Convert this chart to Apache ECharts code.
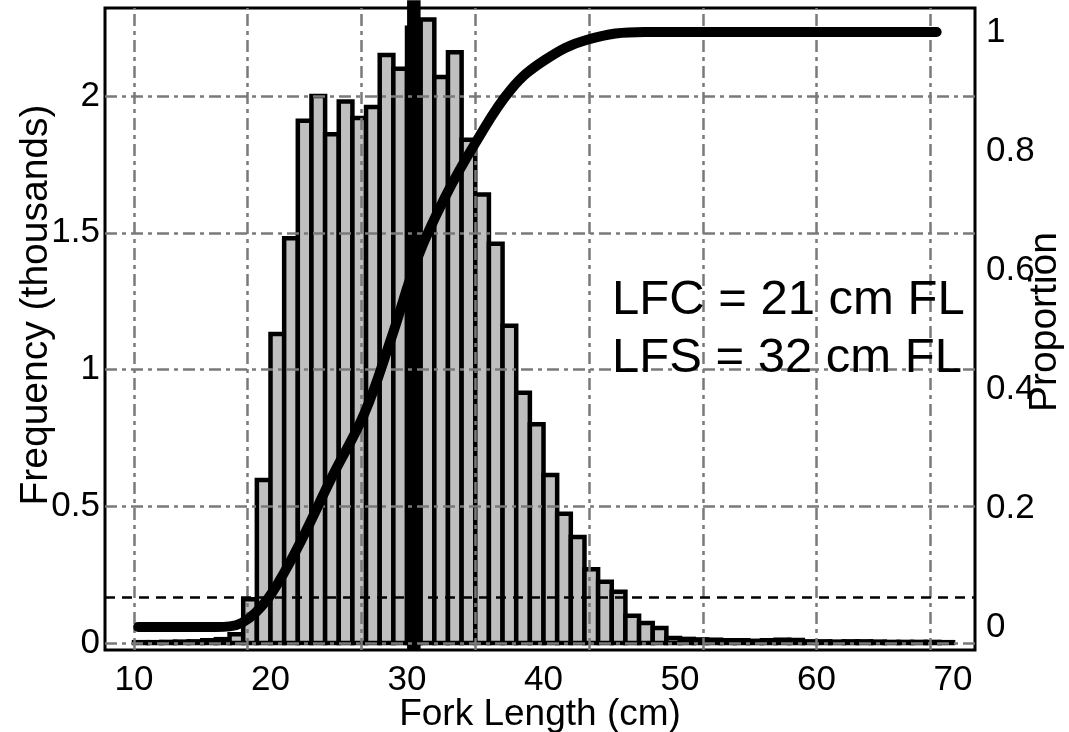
<!DOCTYPE html>
<html>
<head>
<meta charset="utf-8">
<script src="https://cdn.jsdelivr.net/npm/echarts@6/dist/echarts.min.js"></script>
<style>
html,body{margin:0;padding:0;background:#fff;}
#chart{width:1069px;height:732px;}
</style>
</head>
<body>
<div id="chart"></div>
<script>
// ---- data ----
const binStart = [10,11,12,13,14,15,16,17,18,19,20,21,22,23,24,25,26,27,28,29,30,31,32,33,34,35,36,37,38,39,40,41,42,43,44,45,46,47,48,49,50,51,52,53,54,55,56,57,58,59,60,61,62,63,64,65,66,67,68,69];
const freqThousands = [0.003,0.003,0.004,0.005,0.006,0.010,0.014,0.032,0.16,0.596,1.13,1.48,1.91,2.00,1.86,1.98,1.92,1.96,2.15,2.10,2.25,2.28,2.07,2.16,1.84,1.64,1.46,1.16,0.915,0.80,0.614,0.473,0.388,0.27,0.224,0.187,0.10,0.073,0.055,0.018,0.015,0.013,0.012,0.010,0.010,0.008,0.010,0.012,0.011,0.006,0.006,0.005,0.006,0.006,0.005,0.004,0.004,0.004,0.004,0.003];
const curveX = [10.3,12,14,16,17,17.9,18.9,20.1,22.0,24.5,26.9,28.8,30.8,32.8,35.0,37.6,40.1,43.2,47.4,52,60,68.8];
const curveY = [0,0,0,0,0.001,0.007,0.024,0.057,0.134,0.252,0.360,0.482,0.622,0.723,0.813,0.903,0.953,0.987,1.0,1.0,1.0,1.0];
const xTicks = [10,20,30,40,50,60,70];
const leftTicks = [0,0.5,1,1.5,2];
const rightTicks = [0,0.2,0.4,0.6,0.8,1];
const gridX = [10,18.333,26.667,35,43.333,51.667,60,68.333];
const gridY = [0,0.5,1,1.5,2];
const markX = 30.5;          // thick black vertical line
const refProportion = 0.05;  // dashed horizontal line
const dottedX = 35;          // dotted vertical line
const dottedTop = 1.83;
const annotations = ['LFC = 21 cm FL', 'LFS = 32 cm FL'];

const binWidth = 1;
const FONT = '"Liberation Sans", Arial, sans-serif';
const Y_MIN = -0.0256, Y_MAX = 2.322;

const chart = echarts.init(document.getElementById('chart'), null, {renderer:'canvas'});
const gridLineStyle = {color:'#7a7a7a', width:2.5, type:[12,5,4,5]};

chart.setOption({
  animation:false,
  backgroundColor:'#fff',
  grid:{left:105, right:94, top:8, bottom:82, show:true, borderColor:'#000', borderWidth:3,
        backgroundColor:'transparent', containLabel:false, outerBoundsMode:'none'},
  xAxis:{
    type:'value', min:7.875, max:71.61,
    name:'Fork Length (cm)', nameLocation:'middle', nameGap:46, nameMoveOverlap:false,
    nameTextStyle:{fontSize:37, fontFamily:FONT, color:'#000'},
    axisLine:{show:false}, axisTick:{show:false}, splitLine:{show:false},
    axisLabel:{customValues:xTicks, fontSize:35, fontFamily:FONT, color:'#000', margin:13}
  },
  yAxis:[
    {type:'value', min:Y_MIN, max:Y_MAX, position:'left',
     name:'Frequency (thousands)', nameLocation:'middle', nameGap:49, nameRotate:90, nameMoveOverlap:false,
     nameTextStyle:{fontSize:39, fontFamily:FONT, color:'#000', padding:[0,0,0,48]},
     axisLine:{show:false}, axisTick:{show:false}, splitLine:{show:false},
     axisLabel:{customValues:leftTicks, fontSize:35, fontFamily:FONT, color:'#000', margin:5}},
    {type:'value', min:-0.0387, max:1.0403, position:'right',
     name:'Proportion', nameLocation:'middle', nameGap:51, nameRotate:90, nameMoveOverlap:false,
     nameTextStyle:{fontSize:39, fontFamily:FONT, color:'#000', padding:[0,0,0,14]},
     axisLine:{show:false}, axisTick:{show:false}, splitLine:{show:false},
     axisLabel:{customValues:rightTicks, fontSize:35, fontFamily:FONT, color:'#000', margin:11}}
  ],
  series:[
    {
      name:'Frequency', type:'custom', xAxisIndex:0, yAxisIndex:0, z:1,
      data: binStart.map((b,i)=>[b, freqThousands[i]]),
      encode:{x:0, y:1},
      renderItem:function(params, api){
        const x0 = api.value(0), v = api.value(1);
        const p0 = api.coord([x0, 0]);
        const p1 = api.coord([x0 + binWidth, v]);
        return {
          type:'rect',
          shape:{x:p0[0], y:p1[1], width:p1[0]-p0[0], height:p0[1]-p1[1]},
          style:{fill:'#bfbfbf', stroke:'#000', lineWidth:4.5}
        };
      }
    },
    {
      name:'grid', type:'line', xAxisIndex:0, yAxisIndex:0, z:2, data:[], silent:true,
      markLine:{silent:true, symbol:'none', label:{show:false}, animation:false,
        lineStyle:gridLineStyle,
        data: gridX.map(v=>({xAxis:v})).concat(gridY.map(v=>({yAxis:v})))}
    },
    {
      name:'ref', type:'line', xAxisIndex:0, yAxisIndex:1, z:3, data:[], silent:true,
      markLine:{silent:true, symbol:'none', label:{show:false}, animation:false,
        data:[
          {yAxis:refProportion, lineStyle:{color:'#000', width:2.5, type:[10,7]}}
        ]}
    },
    {
      name:'mark', type:'line', xAxisIndex:0, yAxisIndex:0, z:3, silent:true, clip:false,
      data:[[markX, Y_MIN],[markX, 2.35]], showSymbol:false, symbol:'none',
      lineStyle:{color:'#000', width:13.5, cap:'butt'}
    },
    {
      name:'dotted', type:'line', xAxisIndex:0, yAxisIndex:0, z:3, silent:true,
      data:[[dottedX,0],[dottedX,dottedTop]], showSymbol:false, symbol:'none',
      lineStyle:{color:'#000', width:2.5, type:[2,3]}
    },
    {
      name:'Proportion', type:'line', xAxisIndex:0, yAxisIndex:1, z:5,
      data: curveX.map((x,i)=>[x, curveY[i]]),
      smooth:0.4, showSymbol:false, symbol:'none',
      lineStyle:{color:'#000', width:10, cap:'round', join:'round'}
    }
  ],
  graphic:[
    {type:'text', left:612, top:276, z:10, style:{text:annotations[0], font:'49px ' + FONT, fill:'#000'}},
    {type:'text', left:612, top:334, z:10, style:{text:annotations[1], font:'49px ' + FONT, fill:'#000'}}
  ]
});
</script>
</body>
</html>
